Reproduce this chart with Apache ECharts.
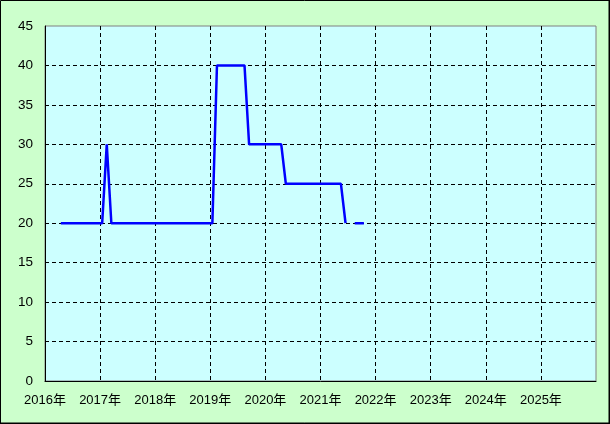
<!DOCTYPE html>
<html>
<head>
<meta charset="utf-8">
<script src="https://cdn.jsdelivr.net/npm/echarts@6/dist/echarts.min.js"></script>
<style>html,body{margin:0;padding:0;background:#ccffcc}#c{width:610px;height:424px}</style>
</head>
<body>
<div id="c"></div>
<script>
const months = [
  '2016-04','2016-05','2016-06','2016-07','2016-08','2016-09','2016-10','2016-11','2016-12',
  '2017-01','2017-02','2017-03','2017-04','2017-05','2017-06','2017-07','2017-08','2017-09','2017-10','2017-11','2017-12',
  '2018-01','2018-02','2018-03','2018-04','2018-05','2018-06','2018-07','2018-08','2018-09','2018-10','2018-11','2018-12',
  '2019-01','2019-02','2019-03','2019-04','2019-05','2019-06','2019-07','2019-08','2019-09','2019-10','2019-11','2019-12',
  '2020-01','2020-02','2020-03','2020-04','2020-05','2020-06','2020-07','2020-08','2020-09','2020-10','2020-11','2020-12',
  '2021-01','2021-02','2021-03','2021-04','2021-05','2021-06','2021-07','2021-08','2021-09','2021-10'
];
const values = [
  20,20,20,20,20,20,20,20,20,
  20,30,20,20,20,20,20,20,20,20,20,20,
  20,20,20,20,20,20,20,20,20,20,20,20,
  20,40,40,40,40,40,40,40,30,30,30,30,
  30,30,30,30,25,25,25,25,25,25,25,25,
  25,25,25,25,25,20,null,20,20,20
];
const yearTicks = [2016,2017,2018,2019,2020,2021,2022,2023,2024,2025,2026];
const yTicks = [0,5,10,15,20,25,30,35,40,45];

function toYear(s){ const [y,m]=s.split('-').map(Number); return y + (m - 1 + 0.45) / 12; }
const seriesData = months.map((m,i)=>[toYear(m), values[i]]);

const chart = echarts.init(document.getElementById('c'));
const font = "'Liberation Sans','Noto Sans CJK JP',sans-serif";
chart.setOption({
  backgroundColor: '#ccffcc',
  animation: false,
  graphic: [
    {type:'rect', shape:{x:0.5,y:0.5,width:608.5,height:422.5}, style:{fill:'none',stroke:'#000',lineWidth:1}, z:100},
    {type:'line', shape:{x1:609.5,y1:0,x2:609.5,y2:424}, style:{stroke:'#000',lineWidth:1}, z:100},
    {type:'line', shape:{x1:0,y1:423.5,x2:610,y2:423.5}, style:{stroke:'#000',lineWidth:1}, z:100}
  ],
  grid: {left:45, top:26, right:14, bottom:43, show:true, backgroundColor:'#ccffff', borderColor:'#808080', borderWidth:1},
  xAxis: {
    type:'value', min:yearTicks[0], max:yearTicks[yearTicks.length-1], interval:1,
    axisLine:{show:true, lineStyle:{color:'#000', width:1}},
    axisTick:{show:false},
    axisLabel:{color:'#000', fontSize:13, fontFamily:font, margin:13,
      formatter:v => (v === yearTicks[yearTicks.length-1] ? '' : v + '年')},
    splitLine:{show:true, showMinLine:false, showMaxLine:false, lineStyle:{color:'#000', type:[4,3], width:1}}
  },
  yAxis: {
    type:'value', min:yTicks[0], max:yTicks[yTicks.length-1], interval:5,
    axisLine:{show:true, lineStyle:{color:'#000', width:1}},
    axisTick:{show:false},
    axisLabel:{color:'#000', fontSize:13.5, fontFamily:font, margin:12},
    splitLine:{show:true, showMinLine:false, showMaxLine:false, lineStyle:{color:'#000', type:[4,3], width:1}}
  },
  series: [{
    type:'line', data:seriesData, showSymbol:false, connectNulls:false,
    lineStyle:{color:'#0000ff', width:2.5}, itemStyle:{color:'#0000ff'}
  }]
});
</script>
</body>
</html>
